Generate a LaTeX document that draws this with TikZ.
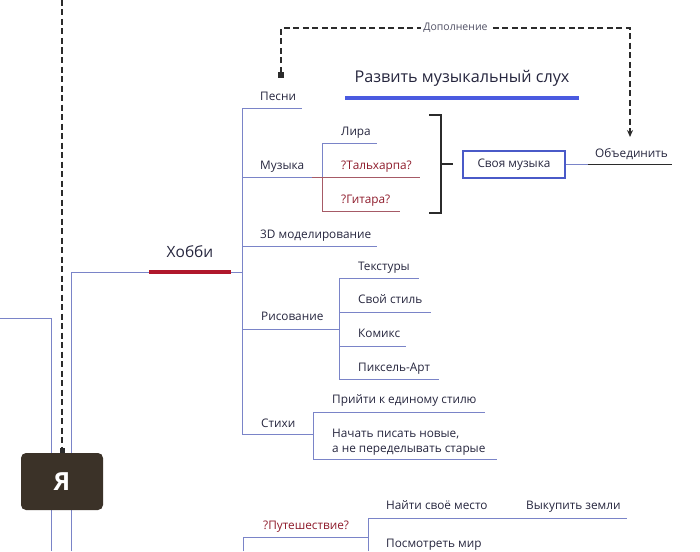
\documentclass[tikz,border=0pt]{standalone}
\usepackage{fontspec}
\setmainfont{Open Sans}
\usetikzlibrary{arrows.meta}
\definecolor{lineblue}{HTML}{7A84C8}
\definecolor{textnavy}{HTML}{26263E}
\definecolor{qred}{HTML}{8E1B2B}
\definecolor{qline}{HTML}{A65A66}
\definecolor{hobbyred}{HTML}{B0182C}
\definecolor{goalblue}{HTML}{4A5AE0}
\definecolor{boxblue}{HTML}{4A5AC8}
\definecolor{darkline}{HTML}{2B2B2B}
\definecolor{yafill}{HTML}{3B3228}
\tikzset{
  lbl/.style={anchor=base west, inner sep=0pt, text=textnavy, font=\fontsize{11.8}{15}\selectfont},
  qlbl/.style={lbl, text=qred},
  branch/.style={draw=lineblue, line width=0.8pt},
  qbranch/.style={draw=qline, line width=0.8pt},
  dashlink/.style={draw=darkline, line width=1.5pt, dash pattern=on 6pt off 3.5pt},
  bracket/.style={draw=darkline, line width=1.4pt},
}
\begin{document}
\begin{tikzpicture}[x=1pt,y=-1pt]
\useasboundingbox (0,0) rectangle (700,551);

% Stammlinien links
\draw[branch] (0,318) -| (51,551);
\draw[branch] (71,551) |- (242,272);
\draw[draw=hobbyred, line width=4pt] (149,272) -- (231,272);
\node[anchor=base, inner sep=0pt, text=textnavy, font=\fontsize{15.5}{18}\selectfont] (hobby) at (190,257) {Хобби};

% Я
\node[fill=yafill, rounded corners=5pt, minimum width=82pt, minimum height=57pt,
  text=white, font=\fontsize{25}{28}\selectfont\bfseries] (ya) at (62,481.5) {Я};
\coordinate (top) at (ya.north |- 0,0);
\draw[dashlink, -{Square[length=5pt,width=5pt]}] (top) -- (ya.north);

% Hobby-Gabel
\coordinate (hf top) at (242,108);
\coordinate (hf bot) at (242,434);
\draw[branch] (hf top) -- (hf bot);

% Песни
\node[lbl] (pesni) at (260,100) {Песни};
\draw[branch] (hf top) -- (302,108);

% Музыка
\node[lbl] (muzyka) at (260,169) {Музыка};
\coordinate (mf) at (322,177);
\draw[branch] (242,177) -- (312,177);
\draw[qbranch] (312,177) -- (420,177);
\draw[branch] (322,143) -- (mf);
\draw[qbranch] (mf) -- (322,211);
\draw[branch] (322,143) -- (377,143);
\draw[qbranch] (322,211) -- (400,211);
\node[lbl] (lira) at (341,135) {Лира};
\node[qlbl] (talh) at (341,169) {?Тальхарпа?};
\node[qlbl] (gitara) at (341,203) {?Гитара?};

% Klammer und eigene Musik
\draw[bracket] (429,115) -- (441,115) -- (441,213) -- (429,213);
\coordinate (br) at (441,164);
\node[draw=boxblue, line width=1.6pt, minimum width=102pt, minimum height=27pt,
  text=textnavy, font=\fontsize{11.8}{14}\selectfont] (svoya) at (514,164.5) {Своя музыка};
\draw[bracket] (br) -- ++(12,0);
\coordinate (obj) at (588,164.5);
\draw[branch] (svoya.east) -- (obj);
\draw[draw=darkline, line width=0.8pt] (obj) -- (672,164.5);
\node[lbl] (obed) at (595,157) {Объединить};

% Dopolnenie
\coordinate (pesni tip) at (281,78);
\coordinate (obed tip) at (630,137);
\draw[dashlink, {Square[length=6pt,width=6pt]}-{Stealth[length=7pt,width=6pt]}]
  (pesni tip) |- node[pos=0.75, fill=white, inner sep=2pt, text=textnavy!80,
  font=\fontsize{10.5}{12}\selectfont] (dop) {Дополнение} (obed tip |- 0,28) -- (obed tip);

% Развить музыкальный слух
\node[anchor=base, inner sep=0pt, text=textnavy, font=\fontsize{16.2}{19}\selectfont] (razv) at (462,82) {Развить музыкальный слух};
\draw[draw=goalblue, line width=4pt] (345,97.5) -- (579,97.5);

% 3D
\node[lbl] (model) at (260,238) {3D моделирование};
\draw[branch] (242,246) -- (377,246);

% Рисование
\node[lbl] (ris) at (261,320) {Рисование};
\draw[branch] (242,329) -- (339,329);
\draw[branch] (339,278) -- (339,379);
\node[lbl] (tekst) at (358,270) {Текстуры};
\draw[branch] (339,278) -- (419,278);
\node[lbl] (stil) at (358,303) {Свой стиль};
\draw[branch] (339,312) -- (431,312);
\node[lbl] (komiks) at (358,337) {Комикс};
\draw[branch] (339,346) -- (406,346);
\node[lbl] (piks) at (358,371) {Пиксель-Арт};
\draw[branch] (339,379) -- (439,379);

% Стихи
\node[lbl] (stihi) at (261,427) {Стихи};
\draw[branch] (hf bot) -- (313,434);
\draw[branch] (313,412) -- (313,459);
\node[lbl] (prijti) at (332,403) {Прийти к единому стилю};
\draw[branch] (313,412) -- (485,412);
\node[lbl] (nachat1) at (332,437) {Начать писать новые,};
\node[lbl] (nachat2) at (332,452) {а не переделывать старые};
\draw[branch] (313,459) -- (497,459);

% Путешествие
\node[qlbl] (put) at (263,529) {?Путешествие?};
\draw[branch] (243,551) |- (368,537);
\draw[branch] (368,551) -- (368,518) -- (627,518);
\node[lbl] (najti) at (386,509) {Найти своё место};
\node[lbl] (vykup) at (526,509) {Выкупить земли};
\node[lbl] (posm) at (386,547) {Посмотреть мир};
\end{tikzpicture}
\end{document}
